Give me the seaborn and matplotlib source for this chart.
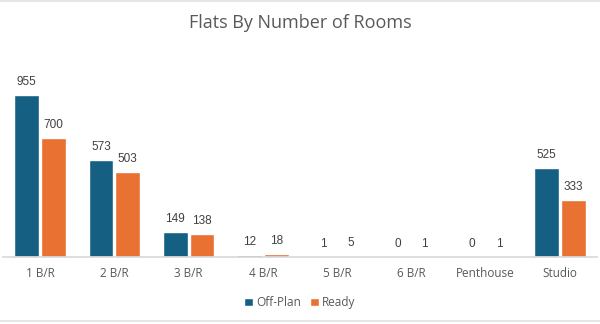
import matplotlib
matplotlib.use("Agg")
import matplotlib.pyplot as plt
from matplotlib.lines import Line2D
import seaborn as sns
import pandas as pd

categories = ["1 B/R", "2 B/R", "3 B/R", "4 B/R", "5 B/R", "6 B/R", "Penthouse", "Studio"]
off_plan = [955, 573, 149, 12, 1, 0, 0, 525]
ready = [700, 503, 138, 18, 5, 1, 1, 333]
series = ["Off-Plan", "Ready"]
colors = ["#156082", "#E97132"]

df = pd.DataFrame({
    "cat": categories * 2,
    "value": off_plan + ready,
    "status": [series[0]] * len(categories) + [series[1]] * len(categories),
})

sns.set_theme(style="white")
plt.rcParams['font.family'] = ['Open Sans', 'DejaVu Sans']

fig = plt.figure(figsize=(6, 3.24), dpi=100)
ax = fig.add_axes([0.005, 0.207, 0.99, 0.55])
sns.barplot(data=df, x="cat", y="value", hue="status", palette=colors,
            width=0.72, gap=0.08, ax=ax, legend=True, saturation=1)
ax.set_ylim(0, 1050)
ax.set_xlim(-0.5, len(categories) - 0.5)
for c in ax.containers:
    ax.bar_label(c, padding=5, fontsize=8.5, color="#404040",
                 family=['Liberation Sans', 'DejaVu Sans'])
for s in ["top", "right", "left"]:
    ax.spines[s].set_visible(False)
ax.spines["bottom"].set_color("#D9D9D9")
ax.set_yticks([])
ax.set_xlabel("")
ax.set_ylabel("")
ax.tick_params(axis="x", length=0, labelsize=8.5, labelcolor="#595959", pad=7)

h, l = ax.get_legend_handles_labels()
ax.get_legend().remove()
fig.legend(h, l, loc="center", bbox_to_anchor=(0.5, 0.065), ncol=2, frameon=False,
           fontsize=8.5, handlelength=0.7, handleheight=0.7, handletextpad=0.3,
           columnspacing=0.8, labelcolor="#595959")

fig.text(0.5, 0.93, "Flats By Number of Rooms", ha="center", va="center",
         fontsize=13, color="#595959")

# thin light frame lines at top and bottom of the chart area
fig.add_artist(Line2D([0, 1], [0.997, 0.997], transform=fig.transFigure,
                      color="#E6E6E6", lw=1.5))
fig.add_artist(Line2D([0, 1], [0.008, 0.008], transform=fig.transFigure,
                      color="#E6E6E6", lw=1.5))

fig.savefig("out.png", dpi=100)
